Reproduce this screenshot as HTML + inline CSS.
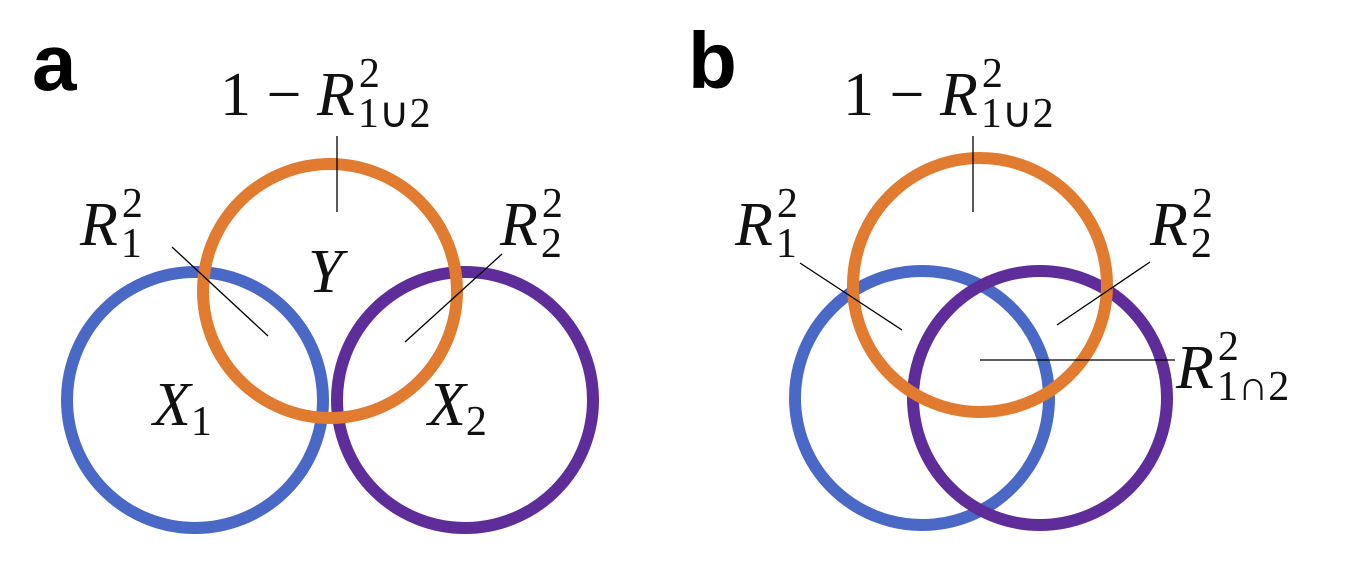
<!DOCTYPE html>
<html><head><meta charset="utf-8"><style>
html,body{margin:0;padding:0;background:#fff;}
svg{display:block;}
.m{font-family:"Liberation Serif",serif;font-size:62px;fill:#111;}
.i{font-style:italic;}
.s{font-size:42px;}
.p{font-family:"Liberation Sans",sans-serif;font-weight:bold;font-size:80px;fill:#000;}
</style></head><body>
<svg width="1360" height="580" viewBox="0 0 1360 580">
<g>
<text class="p" x="32" y="90">a</text>
<circle cx="195" cy="400" r="128" fill="none" stroke="#4A69C6" stroke-width="12"/>
<circle cx="465" cy="400" r="128" fill="none" stroke="#5E2D9A" stroke-width="12"/>
<circle cx="330" cy="291" r="127" fill="none" stroke="#E07B30" stroke-width="12"/>
<text class="m" x="220" y="115">1 − <tspan class="i">R</tspan><tspan class="s" dy="-28" dx="4">2</tspan><tspan class="s" dy="40" dx="-22">1∪2</tspan></text>
<line x1="337" y1="136" x2="337" y2="212" stroke="#000" stroke-width="1.3"/>
<text class="m i" x="308" y="292">Y</text>
<text class="m" x="80" y="245"><tspan class="i">R</tspan><tspan class="s" dy="-28" dx="4">2</tspan><tspan class="s" dy="40" dx="-22">1</tspan></text>
<line x1="172" y1="247" x2="268" y2="336" stroke="#000" stroke-width="1.3"/>
<text class="m" x="500" y="245"><tspan class="i">R</tspan><tspan class="s" dy="-28" dx="4">2</tspan><tspan class="s" dy="40" dx="-22">2</tspan></text>
<line x1="502" y1="254" x2="405" y2="342" stroke="#000" stroke-width="1.3"/>
<text class="m" x="153" y="425"><tspan class="i">X</tspan><tspan class="s" dy="10">1</tspan></text>
<text class="m" x="428" y="425"><tspan class="i">X</tspan><tspan class="s" dy="10">2</tspan></text>
</g>
<g>
<text class="p" x="688" y="88">b</text>
<circle cx="922" cy="398" r="127" fill="none" stroke="#4A69C6" stroke-width="12"/>
<circle cx="1040" cy="398" r="127" fill="none" stroke="#5E2D9A" stroke-width="12"/>
<circle cx="980" cy="285" r="127" fill="none" stroke="#E07B30" stroke-width="12"/>
<text class="m" x="843" y="115">1 − <tspan class="i">R</tspan><tspan class="s" dy="-28" dx="4">2</tspan><tspan class="s" dy="40" dx="-22">1∪2</tspan></text>
<line x1="973" y1="136" x2="973" y2="212" stroke="#000" stroke-width="1.3"/>
<text class="m" x="735" y="245"><tspan class="i">R</tspan><tspan class="s" dy="-28" dx="4">2</tspan><tspan class="s" dy="40" dx="-22">1</tspan></text>
<line x1="800" y1="263" x2="902" y2="330" stroke="#000" stroke-width="1.3"/>
<text class="m" x="1150" y="245"><tspan class="i">R</tspan><tspan class="s" dy="-28" dx="4">2</tspan><tspan class="s" dy="40" dx="-22">2</tspan></text>
<line x1="1150" y1="262" x2="1057" y2="325" stroke="#000" stroke-width="1.3"/>
<text class="m" x="1176" y="388"><tspan class="i">R</tspan><tspan class="s" dy="-28" dx="4">2</tspan><tspan class="s" dy="40" dx="-22">1∩2</tspan></text>
<line x1="980" y1="360" x2="1175" y2="360" stroke="#000" stroke-width="1.3"/>
</g>
</svg>
</body></html>
